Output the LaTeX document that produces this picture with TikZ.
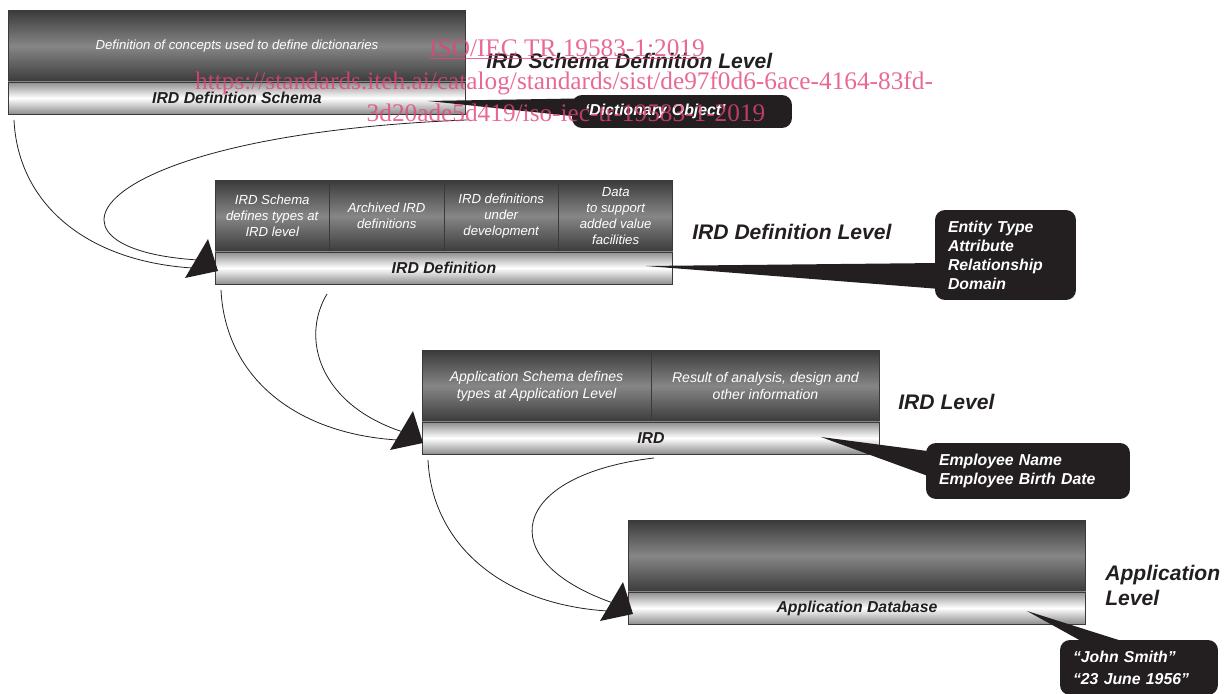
\documentclass[tikz,border=0pt]{standalone}
\usepackage{fontspec}
\setmainfont{Liberation Sans}
\newfontfamily\wmfont{Liberation Serif}
\usepackage{tikz}
\usetikzlibrary{positioning,calc}
\definecolor{ink}{HTML}{231F20}
\definecolor{frame}{HTML}{3A3A3A}
\definecolor{shadedark}{HTML}{3A3A3A}
\definecolor{shadelight}{HTML}{868686}
\definecolor{bargray}{HTML}{8E8E8E}
\definecolor{wmpink}{HTML}{E2447E}

\tikzset{
  darkcell/.style={draw=frame, line width=0.5pt, top color=shadedark, bottom color=shadedark,
    middle color=shadelight, minimum height=1.44cm, inner sep=1pt, outer sep=0pt,
    text=white, align=center, font=\itshape\fontsize{7.5}{9.1}\selectfont},
  widecell/.style={darkcell, minimum width=4.58cm, font=\itshape\fontsize{8}{9.7}\selectfont},
  barcell/.style={draw=frame, line width=0.5pt, top color=bargray, bottom color=bargray,
    middle color=white, minimum width=9.16cm, minimum height=0.64cm, inner sep=0pt,
    outer sep=0pt, text=ink, font=\bfseries\itshape\fontsize{9}{11}\selectfont},
  levellabel/.style={inner sep=0pt, anchor=base west, text=ink, align=left,
    font=\bfseries\itshape\fontsize{12}{14.2}\selectfont},
  callout/.style={fill=ink, rounded corners=0.2cm, inner xsep=0.26cm, inner ysep=0pt,
    outer sep=0pt, anchor=north west, text=white, align=left,
    font=\bfseries\itshape\fontsize{9}{10.8}\selectfont},
  wedge/.style={fill=ink},
  link/.style={draw=ink, line width=0.45pt},
  watermark/.style={inner sep=0pt, anchor=base, text=wmpink, text opacity=0.8,
    font=\wmfont\fontsize{14.4}{17}\selectfont},
  bighead/.pic={\fill[ink] (0,0) -- (-33,7) -- (-10,-32) -- cycle;}
}

\begin{document}
\begin{tikzpicture}[x=0.02cm,y=-0.02cm]
  \useasboundingbox (0,0) rectangle (1227,693);

  % schema definition level
  \node[darkcell, minimum width=9.16cm, anchor=north west] (top1) at (8,10)
    {Definition of concepts used to define dictionaries};
  \node[barcell, anchor=north west] (bar1) at (top1.south west) {IRD Definition Schema};

  % definition level
  \node[darkcell, minimum width=2.29cm, anchor=north west] (c21) at (215,180)
    {IRD Schema\\defines types at\\IRD level};
  \node[darkcell, minimum width=2.29cm, right=0pt of c21] (c22) {Archived IRD\\definitions};
  \node[darkcell, minimum width=2.29cm, right=0pt of c22] (c23) {IRD definitions\\under\\development};
  \node[darkcell, minimum width=2.29cm, right=0pt of c23] (c24) {Data\\to support\\added value\\facilities};
  \node[barcell, anchor=north west] (bar2) at (c21.south west) {IRD Definition};

  % IRD level
  \node[widecell, anchor=north west] (c31) at (422,350)
    {Application Schema defines\\types at Application Level};
  \node[widecell, right=0pt of c31] (c32) {Result of analysis, design and\\other information};
  \node[barcell, anchor=north west] (bar3) at (c31.south west) {IRD};

  % application level
  \node[darkcell, minimum width=9.16cm, anchor=north west] (top4) at (628,520) {};
  \node[barcell, anchor=north west] (bar4) at (top4.south west) {Application Database};

  % level names
  \node[levellabel] (lev1) at (486,68) {IRD Schema Definition Level};
  \node[levellabel] (lev2) at (692,239) {IRD Definition Level};
  \node[levellabel] (lev3) at (898,409) {IRD Level};
  \node[levellabel, anchor=north west] (lev4) at (1105,565) {Application\\Level};

  % callouts
  \node[callout, text width=3.88cm, minimum height=0.66cm] (dict) at (572,95) {‘Dictionary Object’};
  \node[callout, text width=2.30cm, minimum height=1.8cm] (ent) at (935,210)
    {Entity Type\\Attribute\\Relationship\\Domain};
  \node[callout, text width=3.56cm, minimum height=1.12cm] (emp) at (926,443)
    {Employee Name\\Employee Birth Date};
  \node[callout, text width=2.64cm, minimum height=1.1cm,
    font=\bfseries\itshape\fontsize{9}{12.4}\selectfont] (john) at (1060,640)
    {“John Smith”\\“23 June 1956”};

  \coordinate (w1) at ($(bar1.east)+(-38,3)$);
  \coordinate (w2) at ($(bar2.east)+(-27,-2)$);
  \coordinate (w3) at ($(bar3.east)+(-59,-1)$);
  \coordinate (w4) at ($(bar4.east)+(-59,3)$);
  \fill[wedge] (w1) -- ($(dict.west)+(4,-13)$) -- ($(dict.west)+(4,5)$) -- cycle;
  \fill[wedge] (w2) -- ($(ent.west)+(5,8)$) -- ($(ent.west)+(5,34)$) -- cycle;
  \fill[wedge] (w3) -- ($(emp.north west)+(9,9)$) -- ($(emp.north west)+(2,33)$) -- cycle;
  \fill[wedge] (w4) -- ($(john.north west)+(23,2)$) -- ($(john.north west)+(65,2)$) -- cycle;

  % links between levels
  \coordinate (tip2) at ($(bar2.west)+(3,3)$);
  \coordinate (tip3) at ($(bar3.west)+(1,5)$);
  \coordinate (tip4) at ($(bar4.west)+(5,6)$);
  \foreach \up/\dn in {1/2,2/3,3/4}{
    \draw[link] ($(bar\up.south west)+(6,6)$) .. controls +(4,83) and +(-107,-7) .. ($(tip\dn)+(-26,-3)$);
    \pic at (tip\dn) {bighead};
  }
  \coordinate (from1) at ($(bar1.south east)+(1,6)$);
  \coordinate (from2) at ($(bar2.south west)+(112,10)$);
  \coordinate (from3) at ($(bar3.south west)+(232,4)$);
  \draw[link] (from1) .. controls +(-380,15) and +(-178,-11) .. ($(tip2)+(-20,-11)$);
  \draw[link] (from2) .. controls +(-27,45) and +(-83,-27) .. ($(tip3)+(-20,-11)$);
  \draw[link] (from3) .. controls +(-144,17) and +(-123,-43) .. ($(tip4)+(-20,-11)$);

  % stamp
  \node[watermark] (wm1) at (567,56) {\underline{ISO/IEC TR 19583-1:2019}};
  \node[watermark] (wm2) at (564,89) {https://standards.iteh.ai/catalog/standards/sist/de97f0d6-6ace-4164-83fd-};
  \node[watermark] (wm3) at (566,121) {3d20ade5d419/iso-iec-tr-19583-1-2019};
\end{tikzpicture}
\end{document}
